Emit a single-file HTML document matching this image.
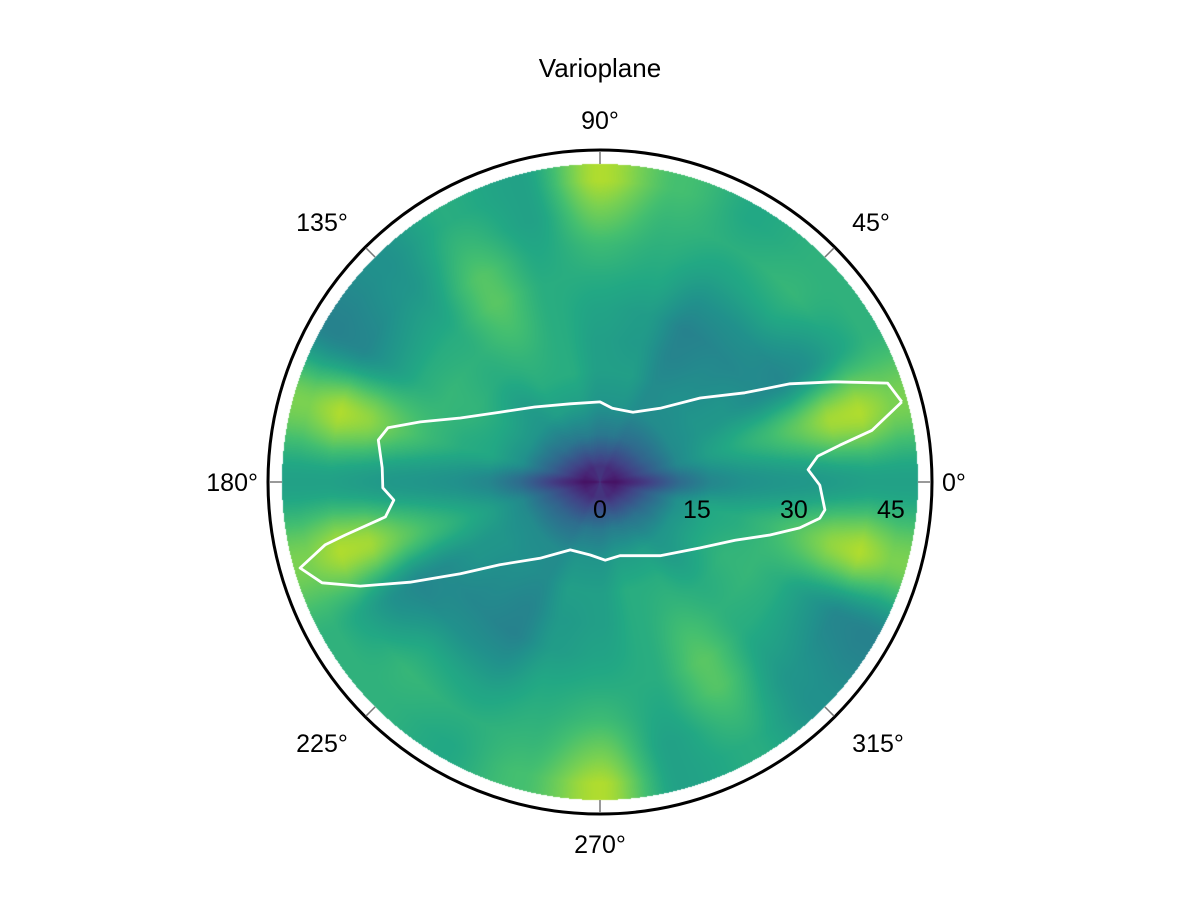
<!DOCTYPE html>
<html><head><meta charset="utf-8"><style>
body{margin:0;background:#fff;}
#wrap{position:relative;width:1200px;height:900px;font-family:"Liberation Sans",sans-serif;}
canvas,svg{position:absolute;left:0;top:0;}
</style></head><body>
<div id="wrap">
<canvas id="hm" width="1200" height="900"></canvas>
<svg id="sv" width="1200" height="900"></svg>
</div>
<script>
const angleBins=[0,15,30,45,60,75,90,105,120,135,150,165];
const radiusBins=[2.45,7.35,12.25,17.15,22.05,26.95,31.85,36.75,41.65,46.55];
const row0=[0.05,0.18,0.35,0.46,0.5,0.52,0.53,0.55,0.57,0.57];
const row15=[0.08,0.28,0.47,0.56,0.62,0.68,0.76,0.86,0.88,0.8];
const row30=[0.1,0.32,0.48,0.52,0.52,0.48,0.46,0.5,0.58,0.64];
const row45=[0.12,0.34,0.48,0.5,0.48,0.46,0.5,0.6,0.66,0.64];
const row60=[0.12,0.36,0.48,0.48,0.45,0.44,0.5,0.58,0.63,0.6];
const row75=[0.15,0.4,0.52,0.56,0.54,0.55,0.6,0.63,0.66,0.7];
const row90=[0.15,0.4,0.52,0.56,0.56,0.58,0.62,0.68,0.78,0.88];
const row105=[0.15,0.42,0.56,0.62,0.62,0.62,0.62,0.6,0.57,0.57];
const row120=[0.12,0.4,0.56,0.62,0.65,0.7,0.74,0.73,0.67,0.62];
const row135=[0.12,0.38,0.52,0.56,0.62,0.64,0.62,0.57,0.52,0.5];
const row150=[0.1,0.34,0.52,0.6,0.65,0.66,0.62,0.54,0.46,0.44];
const row165=[0.08,0.3,0.5,0.6,0.62,0.67,0.74,0.83,0.88,0.8];
const contourX=[46.7,44.5,36.3,29.4,22.4,15.5,9.3,5.1,1.9,0,-4.6,-10.1,-15.5,-21.6,-27.8,-32.8,-34.3,-33.7,-33.6,-31.9,-33.2,-39.4,-42.5,-46.4,-43.0,-37.1,-29.4,-21.6,-15.5,-9.3,-4.6,-1.5,0.8,3.1,9.3,15.5,20.9,26.3,30.9,34.0,34.8,34.0,32.2,33.7,37.1,42.1,46.7];
const contourY=[12.4,15.3,15.5,15.2,13.8,13.0,11.4,10.8,11.4,12.4,12.1,11.6,10.8,9.9,9.3,8.4,6.5,2.2,-0.9,-2.8,-5.4,-8.2,-9.7,-13.3,-15.6,-16.1,-15.5,-14.2,-12.8,-11.8,-10.5,-11.3,-12.1,-11.4,-11.4,-10.2,-9.0,-8.2,-7.1,-5.6,-4.3,-0.5,1.9,4.0,5.7,8.0,12.4];
const radialTicks=[0,15,30,45];
const angleTicks=[0,45,90,135,180,225,270,315];
const grid=[row0,row15,row30,row45,row60,row75,row90,row105,row120,row135,row150,row165];

const CX=600,CY=482,RMAX=49.2,RPX=318,S=RPX/RMAX;
const px=u=>CX+u*S, py=v=>CY-v*S;
const vir=[[68,1,84],[72,36,117],[65,68,135],[53,95,141],[42,120,142],[33,145,140],[34,168,132],[68,191,112],[122,209,81],[189,223,38],[253,231,37]];
function cmap(t){t=Math.max(0,Math.min(1,t))*10;const i=Math.min(9,Math.floor(t)),f=t-i;return vir[i].map((c,k)=>c+(vir[i+1][k]-c)*f);}
function val(r,th){
  const na=angleBins.length,step=180/na;
  let a=(th%180+180)%180/step; let i0=Math.floor(a)%na,i1=(i0+1)%na,fa=a-Math.floor(a);
  fa=fa*fa*(3-2*fa);
  let rr=(r-radiusBins[0])/(radiusBins[1]-radiusBins[0]);
  rr=Math.max(0,Math.min(radiusBins.length-1,rr));let j0=Math.floor(rr),j1=Math.min(radiusBins.length-1,j0+1),fr=rr-j0;
  const g=(i,j)=>grid[i][j];
  return (g(i0,j0)*(1-fr)+g(i0,j1)*fr)*(1-fa)+(g(i1,j0)*(1-fr)+g(i1,j1)*fr)*fa;
}
const ctx=document.getElementById('hm').getContext('2d');
const img=ctx.createImageData(1200,900);
for(let y=CY-RPX-1;y<=CY+RPX+1;y++)for(let x=CX-RPX-1;x<=CX+RPX+1;x++){
  const u=(x+0.5-CX)/S,v=(CY-(y+0.5))/S,r=Math.hypot(u,v);
  if(r>RMAX)continue;
  const th=Math.atan2(v,u)*180/Math.PI;
  const c=cmap(val(r,th));const k=(y*1200+x)*4;
  img.data[k]=c[0];img.data[k+1]=c[1];img.data[k+2]=c[2];img.data[k+3]=255;
}
ctx.putImageData(img,0,0);

const NS='http://www.w3.org/2000/svg',sv=document.getElementById('sv');
function mk(t,a,txt){const e=document.createElementNS(NS,t);for(const k in a)e.setAttribute(k,a[k]);if(txt!==undefined)e.textContent=txt;sv.appendChild(e);return e;}
let d=contourX.map((x,i)=>(i?'L':'M')+px(x).toFixed(1)+','+py(contourY[i]).toFixed(1)).join('');
const cl=mk('path',{d:d,fill:'none',stroke:'#fff','stroke-width':2.8,'stroke-linejoin':'round'});


const oc=mk('circle',{cx:CX,cy:CY,r:332,fill:'none',stroke:'#000','stroke-width':3});


angleTicks.forEach(a=>{
  const t=a*Math.PI/180,c=Math.cos(t),s=Math.sin(t);
  const tk=mk('line',{x1:CX+318*c,y1:CY-318*s,x2:CX+331*c,y2:CY-331*s,stroke:'#777','stroke-width':1.5});
  
  
  const diag=(a%90)!==0;
  let anc='middle',lx=CX+362*c,ly=CY-362*s+9;
  if(diag){lx=CX+(c>0?271:-278)*(a===315?1.026:1);ly=CY+(s>0?-260:261)+9;}
  if(a===0){anc='start';lx=CX+342;}
  if(a===180){anc='end';lx=CX-342;}
  const lb=mk('text',{x:lx,y:ly,'font-size':25,'text-anchor':anc,fill:'#000'},a+'°');
  
  
});
radialTicks.forEach(r=>{
  const lb=mk('text',{x:px(r),y:518,'font-size':25,'text-anchor':'middle',fill:'#000'},String(r));
  
  
});
const ti=mk('text',{x:600,y:77,'font-size':26,'text-anchor':'middle',fill:'#000'},'Varioplane');


</script>
</body></html>
